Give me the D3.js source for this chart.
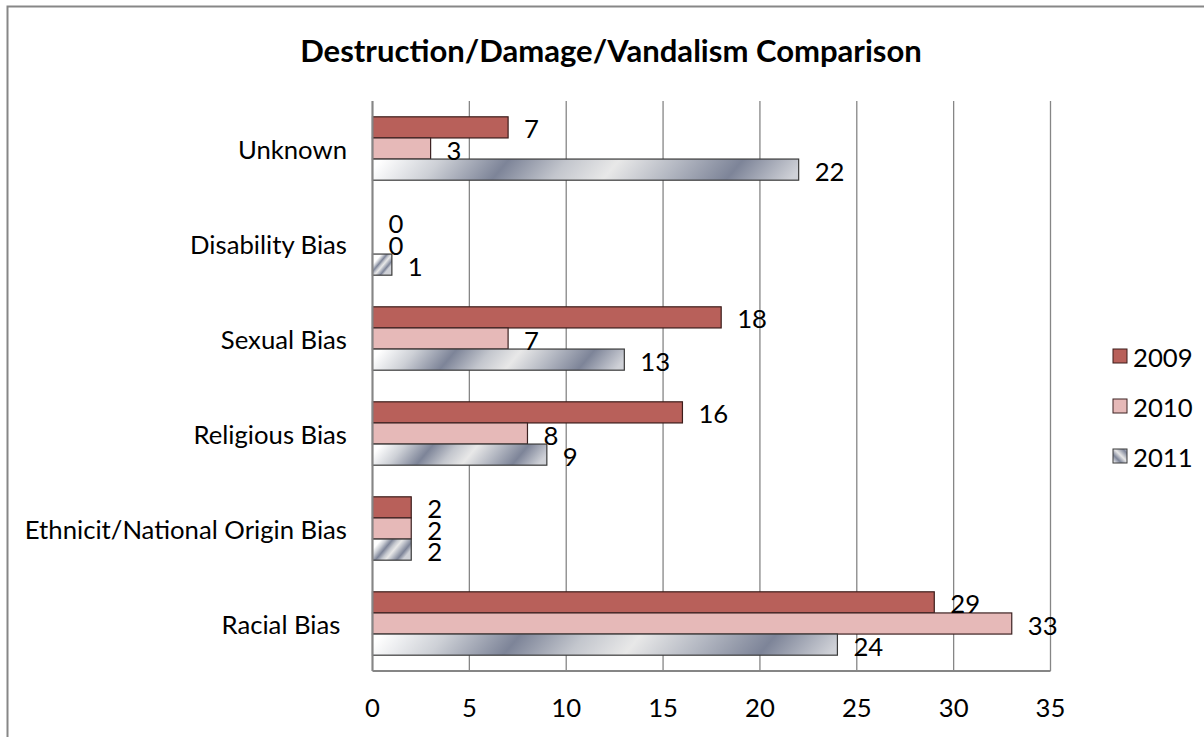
<!DOCTYPE html>
<html>
<head>
<meta charset="utf-8">
<script src="https://cdn.jsdelivr.net/npm/d3@7"></script>
<style>
  html, body { margin: 0; padding: 0; background: #fff; }
  svg { display: block; font-family: Lato, "Open Sans", sans-serif; }
</style>
</head>
<body>
<svg id="chart" width="1204" height="737"></svg>
<script>
// categories, top to bottom as drawn
const categories = ['Unknown', 'Disability Bias', 'Sexual Bias', 'Religious Bias', 'Ethnicit/National Origin Bias', 'Racial Bias ']
const years = ['2009', '2010', '2011']
const values2009 = [7, 0, 18, 16, 2, 29]
const values2010 = [3, 0, 7, 8, 2, 33]
const values2011 = [22, 1, 13, 9, 2, 24]
const xTicks = [0, 5, 10, 15, 20, 25, 30, 35]

const series = [
    { year: years[0], values: values2009 },
    { year: years[1], values: values2010 },
    { year: years[2], values: values2011 }
]

const svg = d3.select('#chart')
const defs = svg.append('defs')

const plot = { left: 372.5, right: 1050.5, top: 101, bottom: 671 }

// chart frame, cut off on right and bottom like the original
svg.append('rect')
    .attr('x', 7.5).attr('y', 6.5)
    .attr('width', 1300).attr('height', 900)
    .attr('fill', 'none').attr('stroke', '#878787').attr('stroke-width', 2)

const x = d3.scaleLinear().domain([0, 35]).range([plot.left, plot.right])
const y = d3.scaleBand().domain(categories).range([plot.top, plot.bottom]).paddingInner(0.333).paddingOuter(0.1665)
const ySub = d3.scaleBand().domain(years).range([0, y.bandwidth()])

// gridlines
svg.append('g').selectAll('line').data(xTicks).join('line')
    .attr('x1', d => x(d)).attr('x2', d => x(d))
    .attr('y1', plot.top).attr('y2', plot.bottom)
    .attr('stroke', '#868686').attr('stroke-width', 1.3)

// gradient for 2011, one per bar so the stripes stretch like the original
function stripeGradient(id, x0, w, yc) {
    const g = defs.append('linearGradient')
        .attr('id', id)
        .attr('gradientUnits', 'userSpaceOnUse')
        .attr('x1', x0).attr('x2', x0 + w).attr('y1', 0).attr('y2', 0)
        .attr('gradientTransform', `translate(0,${yc}) skewX(-40) translate(0,${-yc})`)
    const stops = [
        [0, '#ffffff'], [0.14, '#cdd0d6'], [0.3, '#7d8498'], [0.44, '#c3c6cd'],
        [0.56, '#e8e8e8'], [0.7, '#b5b9c3'], [0.85, '#7d8498'], [1, '#cfd1d7']
    ]
    g.selectAll('stop').data(stops).join('stop')
        .attr('offset', d => d[0]).attr('stop-color', d => d[1])
    return `url(#${id})`
}

const fills = { '2009': '#b8605a', '2010': '#e6b9b8' }
const strokes = { '2009': '#3c1c1a', '2010': '#3c2222', '2011': '#3a3a3a' }

const bars = []
series.forEach(s => {
    s.values.forEach((v, i) => bars.push({ year: s.year, cat: categories[i], value: v, idx: i }))
})

const barG = svg.append('g')
barG.selectAll('rect').data(bars.filter(d => d.value > 0)).join('rect')
    .attr('x', x(0))
    .attr('y', d => y(d.cat) + ySub(d.year))
    .attr('width', d => x(d.value) - x(0))
    .attr('height', ySub.bandwidth())
    .attr('fill', d => d.year === '2011'
        ? stripeGradient('g2011_' + d.idx, x(0), x(d.value) - x(0), y(d.cat) + ySub(d.year) + ySub.bandwidth() / 2)
        : fills[d.year])
    .attr('stroke', d => strokes[d.year]).attr('stroke-width', 1.2)

// axis lines
svg.append('line').attr('x1', plot.left).attr('x2', plot.right).attr('y1', plot.bottom).attr('y2', plot.bottom)
    .attr('stroke', '#868686').attr('stroke-width', 2)
svg.append('line').attr('x1', plot.left).attr('x2', plot.left).attr('y1', plot.top).attr('y2', plot.bottom)
    .attr('stroke', '#868686').attr('stroke-width', 2)

// category labels, sized so the longest one spans the same width as the original
const catLabels = svg.append('g').selectAll('text').data(categories).join('text')
    .attr('x', 347)
    .attr('y', d => y(d) + y.bandwidth() / 2)
    .attr('text-anchor', 'end').attr('dominant-baseline', 'central')
    .attr('font-size', 20).attr('fill', '#000')
    .style('white-space', 'pre')
    .text(d => d)
const longest = catLabels.filter(d => d.startsWith('Ethnicit')).node().getComputedTextLength()
const fontSize = Math.round(20 * 322 / longest * 10) / 10
catLabels.attr('font-size', fontSize)

// value labels
svg.append('g').selectAll('text').data(bars).join('text')
    .attr('x', d => x(d.value) + 16)
    .attr('y', d => y(d.cat) + ySub(d.year) + ySub.bandwidth() / 2 + 1)
    .attr('dominant-baseline', 'central')
    .attr('font-size', fontSize).attr('fill', '#000')
    .text(d => d.value)

// x tick labels
svg.append('g').selectAll('text').data(xTicks).join('text')
    .attr('x', d => x(d))
    .attr('y', 707)
    .attr('text-anchor', 'middle').attr('dominant-baseline', 'central')
    .attr('font-size', fontSize).attr('fill', '#000')
    .text(d => d)

// title
const title = svg.append('text')
    .attr('x', 611).attr('y', 50)
    .attr('text-anchor', 'middle').attr('dominant-baseline', 'central')
    .attr('font-size', 26).attr('font-weight', 'bold').attr('fill', '#000')
    .text('Destruction/Damage/Vandalism Comparison')
const tw = title.node().getComputedTextLength()
title.attr('font-size', 26 * 622 / tw)

// legend
const legend = svg.append('g').selectAll('g').data(years).join('g')
    .attr('transform', (d, i) => `translate(1113, ${356 + i * 50})`)
legend.append('rect')
    .attr('x', 0).attr('y', -7).attr('width', 14).attr('height', 14)
    .attr('fill', (d, i) => i === 2 ? (() => {
        const g = defs.append('linearGradient').attr('id', 'legend2011')
            .attr('x1', 0).attr('y1', 1).attr('x2', 1).attr('y2', 0)
        g.selectAll('stop').data([[0, '#ffffff'], [0.3, '#7d8498'], [0.55, '#e8e8e8'], [0.85, '#7d8498'], [1, '#cfd1d7']]).join('stop')
            .attr('offset', s => s[0]).attr('stop-color', s => s[1])
        return 'url(#legend2011)'
    })() : fills[d])
    .attr('stroke', d => strokes[d]).attr('stroke-width', 1)
legend.append('text')
    .attr('x', 20).attr('y', 1)
    .attr('dominant-baseline', 'central')
    .attr('font-size', fontSize).attr('fill', '#000')
    .text(d => d)
</script>
</body>
</html>
